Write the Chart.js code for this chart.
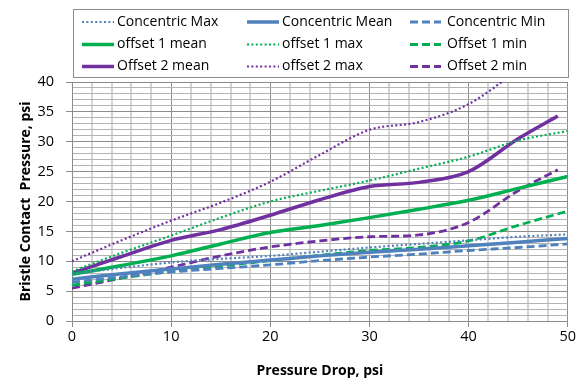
<!DOCTYPE html>
<html>
<head>
<meta charset="utf-8">
<script src="https://cdn.jsdelivr.net/npm/chart.js@4.4.1/dist/chart.umd.min.js"></script>
<style>
    html, body { margin: 0; padding: 0; background: #fff; }
    #wrap { position: relative; width: 577px; height: 383px; }
</style>
</head>
<body>
<div id="wrap"><canvas id="bristle"></canvas></div>
<script>
// x values (pressure drop, psi)
const pressureDrop = [0, 5, 10, 15, 20, 25, 30, 35, 40, 45, 50];
const pressureDropOffset2 = [0, 5, 10, 15, 20, 25, 30, 35, 40, 45, 49];

// bristle contact pressure, psi
const concentricMax  = [7.9, 8.9, 9.8, 10.4, 10.9, 11.6, 12.3, 12.9, 13.5, 14.1, 14.5];
const concentricMean = [7.0, 7.9, 8.7, 9.5, 10.2, 10.9, 11.5, 12.0, 12.6, 13.2, 13.8];
const concentricMin  = [6.5, 7.4, 8.2, 8.8, 9.4, 10.1, 10.7, 11.2, 11.8, 12.3, 12.9];
const offset1Mean = [7.8, 9.3, 10.9, 12.9, 14.8, 16.0, 17.3, 18.7, 20.2, 22.2, 24.2];
const offset1Max  = [8.3, 11.4, 14.3, 17.3, 20.0, 21.8, 23.5, 25.5, 27.5, 30.2, 31.8];
const offset1Min  = [6.0, 7.2, 8.3, 9.2, 10.1, 11.0, 11.8, 12.3, 13.4, 16.0, 18.4];
const offset2Mean = [8.0, 10.8, 13.5, 15.3, 17.7, 20.3, 22.5, 23.2, 25.0, 30.5, 34.3];
const offset2Max  = [10.0, 13.5, 16.8, 19.8, 23.3, 27.8, 32.0, 33.3, 36.3, 42.0, null];
const offset2Min  = [5.5, 7.2, 9.0, 10.9, 12.4, 13.4, 14.1, 14.4, 16.5, 21.8, 25.3];

const seriesNames = [
    'Concentric Max', 'Concentric Mean', 'Concentric Min',
    'offset 1 mean', 'offset 1 max', 'Offset 1 min',
    'Offset 2 mean', 'offset 2 max', 'Offset 2 min'
];

const BLUE = '#4f81bd', GREEN = '#00b050', PURPLE = '#7030a0';
const FONT = '"Open Sans", Lato, sans-serif';

function pts(xs, ys) {
    return xs.map((x, i) => ({ x: x, y: ys[i] }));
}

function line(label, xs, ys, color, kind) {
    const ds = {
        label: label,
        data: pts(xs, ys),
        borderColor: color,
        backgroundColor: color,
        pointRadius: 0,
        pointHoverRadius: 0,
        fill: false,
        cubicInterpolationMode: 'monotone',
        clip: 0,
        borderCapStyle: 'butt'
    };
    if (kind === 'solid') {
        ds.borderWidth = 3.5;
    } else if (kind === 'dot') {
        ds.borderWidth = 2.2;
        ds.borderDash = [2, 2.4];
    } else {
        ds.borderWidth = 2.8;
        ds.borderDash = [8, 4];
    }
    return ds;
}

// legend box drawn in the space above the plot, 3 columns x 3 rows
const legendBox = {
    id: 'legendBox',
    afterDraw(chart) {
        const ctx = chart.ctx;
        ctx.save();
        ctx.strokeStyle = '#8c8c8c';
        ctx.lineWidth = 1;
        ctx.strokeRect(73.5, 9.5, 495, 68);
        const cols = [[82, 114, 117], [247, 279, 282], [410, 441, 447]];
        const rows = [22, 44.5, 66.5];
        ctx.font = '14px ' + FONT;
        ctx.textBaseline = 'middle';
        ctx.fillStyle = '#000';
        chart.data.datasets.forEach((ds, i) => {
            const c = cols[i % 3], y = rows[Math.floor(i / 3)];
            ctx.beginPath();
            ctx.strokeStyle = ds.borderColor;
            ctx.lineWidth = ds.borderWidth;
            ctx.setLineDash(ds.borderDash || []);
            ctx.moveTo(c[0], y);
            ctx.lineTo(c[1], y);
            ctx.stroke();
            ctx.setLineDash([]);
            ctx.fillText(ds.label, c[2], y);
        });
        ctx.restore();
    }
};

document.addEventListener('DOMContentLoaded', () => {
    const ctx = document.getElementById('bristle').getContext('2d');
    new Chart(ctx, {
        type: 'line',
        data: {
            datasets: [
                line(seriesNames[0], pressureDrop, concentricMax, BLUE, 'dot'),
                line(seriesNames[1], pressureDrop, concentricMean, BLUE, 'solid'),
                line(seriesNames[2], pressureDrop, concentricMin, BLUE, 'dash'),
                line(seriesNames[3], pressureDrop, offset1Mean, GREEN, 'solid'),
                line(seriesNames[4], pressureDrop, offset1Max, GREEN, 'dot'),
                line(seriesNames[5], pressureDrop, offset1Min, GREEN, 'dash'),
                line(seriesNames[6], pressureDropOffset2, offset2Mean, PURPLE, 'solid'),
                line(seriesNames[7], pressureDropOffset2, offset2Max, PURPLE, 'dot'),
                line(seriesNames[8], pressureDropOffset2, offset2Min, PURPLE, 'dash')
            ]
        },
        options: {
            responsive: true,
            maintainAspectRatio: false,
            animation: false,
            layout: { padding: { top: 82, right: 6, left: 0, bottom: 0 } },
            plugins: {
                legend: { display: false },
                tooltip: { enabled: false }
            },
            scales: {
                x: {
                    type: 'linear',
                    min: 0,
                    max: 50,
                    ticks: {
                        stepSize: 2,
                        autoSkip: false,
                        color: '#000',
                        font: { family: FONT, size: 14.5 },
                        padding: 1,
                        maxRotation: 0,
                        callback: v => (v % 10 === 0 ? String(v) : '')
                    },
                    grid: {
                        color: c => (c.tick && c.tick.value % 10 === 0 ? '#8c8c8c' : '#d4d4d4'),
                        lineWidth: c => (c.tick && c.tick.value % 10 === 0 ? 1 : 2),
                        tickColor: c => (c.tick && c.tick.value % 10 === 0 ? '#8c8c8c' : 'rgba(0,0,0,0)'),
                        tickLength: 6
                    },
                    border: { color: '#8c8c8c' },
                    title: {
                        display: true,
                        text: 'Pressure Drop, psi',
                        color: '#000',
                        font: { family: FONT, size: 14, weight: 'bold' },
                        padding: { top: 4, bottom: 4 }
                    },
                    afterFit: scale => { scale.height = 62; }
                },
                y: {
                    min: 0,
                    max: 40,
                    ticks: {
                        stepSize: 1,
                        autoSkip: false,
                        color: '#000',
                        font: { family: FONT, size: 14.5 },
                        padding: 12,
                        callback: v => (v % 5 === 0 ? String(v) : '')
                    },
                    grid: {
                        color: c => (c.tick && c.tick.value % 5 === 0 ? '#8c8c8c' : '#b4b4b4'),
                        tickColor: c => (c.tick && c.tick.value % 5 === 0 ? '#8c8c8c' : 'rgba(0,0,0,0)'),
                        tickLength: 6
                    },
                    border: { color: '#8c8c8c' },
                    title: {
                        display: true,
                        text: 'Bristle Contact  Pressure, psi',
                        color: '#000',
                        font: { family: FONT, size: 14, weight: 'bold' },
                        padding: { top: 18, bottom: 0 }
                    },
                    afterFit: scale => { scale.width = 72; }
                }
            }
        },
        plugins: [legendBox]
    });
});
</script>
</body>
</html>
